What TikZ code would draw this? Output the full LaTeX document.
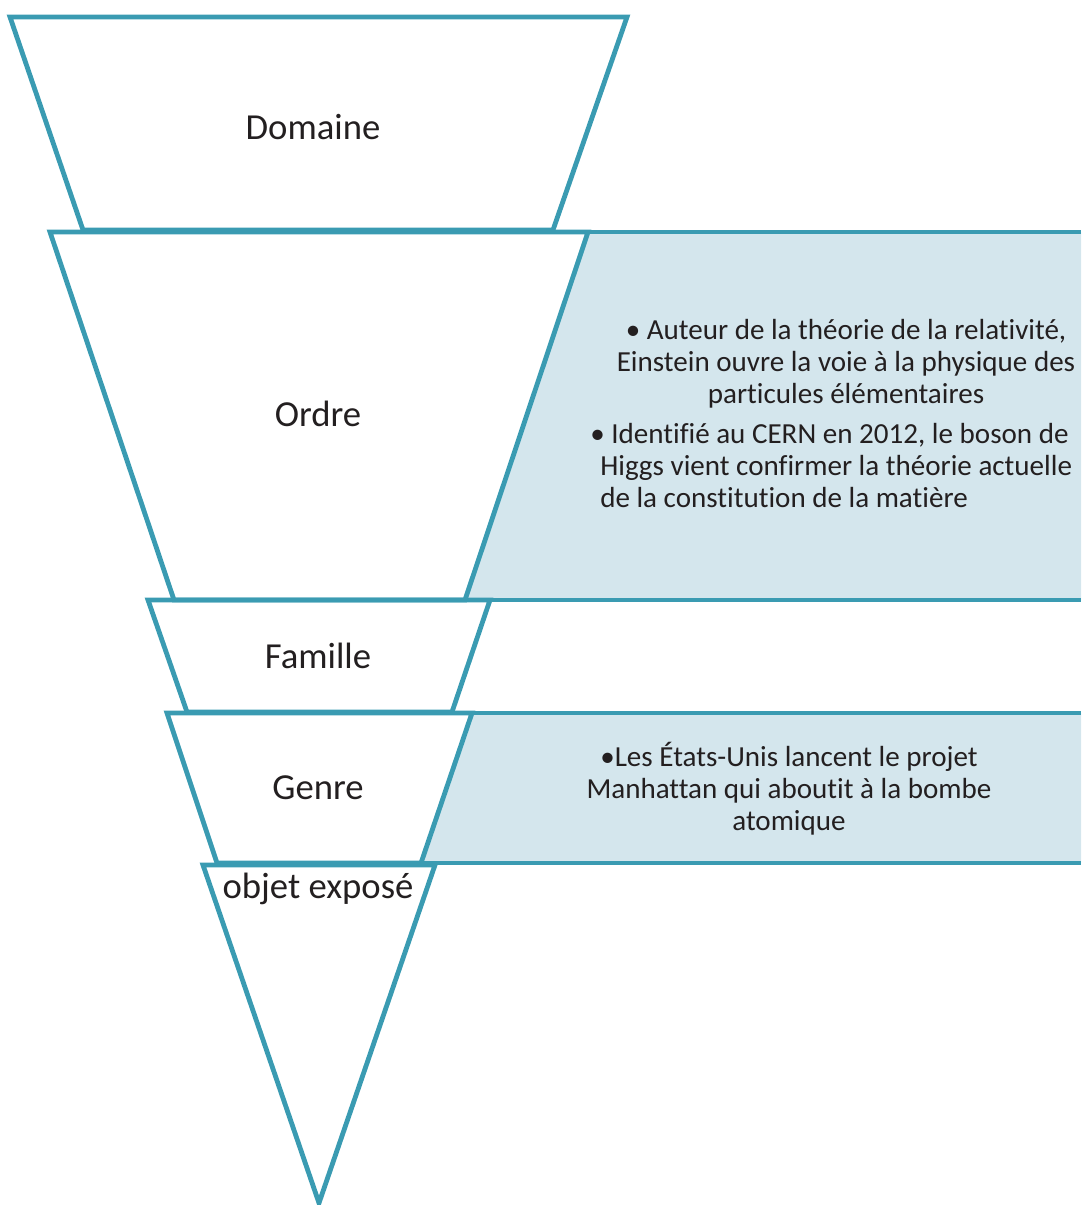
\documentclass[tikz,border=0pt]{standalone}
\usepackage{fontspec}
\setmainfont{Carlito}[Ligatures=NoCommon]
\definecolor{tealline}{RGB}{58,155,178}
\definecolor{bandfill}{RGB}{212,230,237}
\definecolor{inkdark}{RGB}{35,31,32}
\tikzset{
  level/.style={draw=tealline,line width=3.6pt,line join=miter},
  band/.style={fill=bandfill},
  bandline/.style={draw=tealline,line width=3.6pt},
  levellabel/.style={inner sep=0pt,text=inkdark,font=\fontsize{27.5}{33}\selectfont},
  bandtext/.style={inner sep=0pt,text=inkdark,font=\fontsize{21.8}{24}\selectfont}
}

\begin{document}
\begin{tikzpicture}[x=0.75pt,y=0.75pt,yscale=-1]
\useasboundingbox (0,0) rectangle (1081,1205);

% shaded band next to Ordre
\fill [band] (588,232) -- (1081,232) -- (1081,600) -- (465,600) -- cycle ;
% shaded band next to Genre
\fill [band] (472,713) -- (1081,713) -- (1081,863) -- (421,863) -- cycle ;

% band borders
\draw [bandline] (588,232) -- (1081,232) ;
\draw [bandline] (465,600) -- (1081,600) ;
\draw [bandline] (472,713) -- (1081,713) ;
\draw [bandline] (421,863) -- (1081,863) ;

% Domaine
\draw [level] (10,17) -- (627,17) -- (553,230) -- (83,230) -- cycle ;
% Ordre
\draw [level] (50,232) -- (588,232) -- (465,600) -- (174,600) -- cycle ;
% Famille
\draw [level] (148,600) -- (490,600) -- (452,712) -- (187,712) -- cycle ;
% Genre
\draw [level] (167,713) -- (472,713) -- (421,863) -- (217,863) -- cycle ;
% objet expose
\draw [level] (203,865) -- (435,865) -- (319,1203) -- cycle ;

% level labels
\node [levellabel] (domaine) at (313,127) {Domaine};
\node [levellabel] (ordre) at (318,414) {Ordre};
\node [levellabel] (famille) at (318,656) {Famille};
\node [levellabel] (genre) at (318,788) {Genre};
\node [levellabel] (objet) at (318,889) {objet exposé};

% band texts
\node [bandtext,align=center] (einstein) at (846,364)
  {• Auteur de la théorie de la relativité,\\
   Einstein ouvre la voie à la physique des\\
   particules élémentaires};
\node [bandtext,align=left,anchor=west] (higgs) at (590,466)
  {• Identifié au CERN en 2012, le boson de\\
   \hspace*{7.5pt}Higgs vient confirmer la théorie actuelle\\
   \hspace*{7.5pt}de la constitution de la matière};
\node [bandtext,align=center] (manhattan) at (789,789)
  {•Les États-Unis lancent le projet\\
   Manhattan qui aboutit à la bombe\\
   atomique};
\end{tikzpicture}
\end{document}
